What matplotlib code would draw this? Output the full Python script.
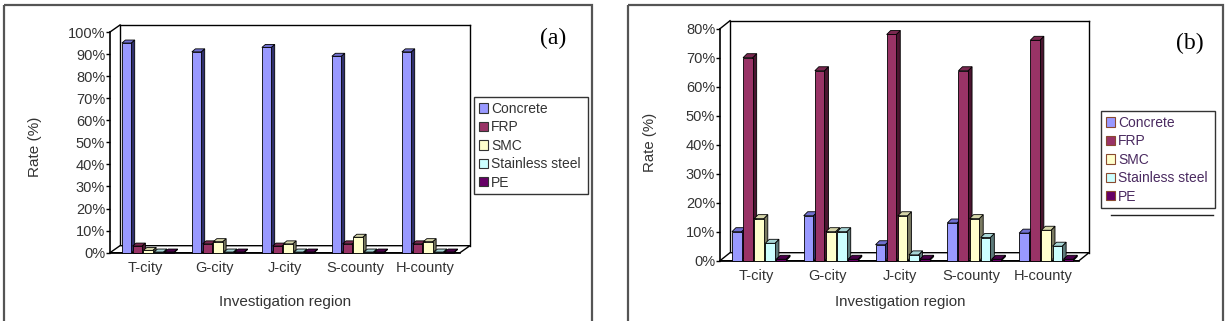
import numpy as np
import matplotlib
matplotlib.use("Agg")
import matplotlib.pyplot as plt
from matplotlib.patches import Polygon, Rectangle, Patch
from matplotlib.ticker import PercentFormatter

# du lieu doc tu hinh
regions = ["T-city", "G-city", "J-city", "S-county", "H-county"]
materials = ["Concrete", "FRP", "SMC", "Stainless steel", "PE"]

# (a)
concrete_a = [95, 91, 93, 89, 91]
frp_a = [3, 4, 3, 4, 4]
smc_a = [1, 5, 4, 7, 5]
steel_a = [0.3, 0.3, 0.3, 0.3, 0.3]
pe_a = [0.3, 0.3, 0.3, 0.3, 0.3]

# (b)
concrete_b = [10, 15.5, 5.5, 13, 9.5]
frp_b = [70, 65.5, 78, 65.5, 76]
smc_b = [14.5, 10, 15.5, 14.5, 10.5]
steel_b = [6, 10, 2, 8, 5]
pe_b = [0.5, 0.5, 0.5, 0.5, 0.5]

front_col = ["#9999FF", "#993366", "#FFFFCC", "#CCFFFF", "#660066"]
top_col = ["#7070d0", "#7a2850", "#d6d6aa", "#a8d6d6", "#4a004a"]
side_col = ["#30306e", "#4a1530", "#7a7a62", "#5c7a7a", "#2a002a"]

W, H = 1227, 321
fig = plt.figure(figsize=(W / 100, H / 100), dpi=100)
fig.patch.set_facecolor("white")

bg = fig.add_axes([0, 0, 1, 1])
bg.set_xlim(0, W)
bg.set_ylim(H, 0)
bg.axis("off")

txt = "#333333"
font = "Liberation Sans"

# khung
bg.add_patch(Rectangle((4, 5), 588, 340, fill=False, ec="#555555", lw=1.6))
bg.add_patch(Rectangle((628, 5), 595, 340, fill=False, ec="#555555", lw=1.6))


def ve_panel(box, data, ymax, wall, bar_d, start, step, width):
    x0, x1, ytop, ybot = box
    ax = fig.add_axes([x0 / W, 1 - ybot / H, (x1 - x0) / W, (ybot - ytop) / H])
    n = len(regions)
    ax.set_xlim(0, n)
    ax.set_ylim(0, ymax)
    ax.patch.set_alpha(0)
    sx = (x1 - x0) / n
    sy = (ybot - ytop) / ymax
    wdx, wdy = wall[0] / sx, wall[1] / sy
    bdx, bdy = bar_d[0] / sx, bar_d[1] / sy

    # tuong sau + nen
    kw = dict(color="black", lw=1.0, clip_on=False, zorder=2)
    ax.plot([wdx, n + wdx], [ymax + wdy, ymax + wdy], **kw)
    ax.plot([n + wdx, n + wdx], [ymax + wdy, wdy], **kw)
    ax.plot([wdx, wdx], [ymax + wdy, wdy], **kw)
    ax.plot([0, wdx], [ymax, ymax + wdy], **kw)
    ax.add_patch(Polygon([(0, 0), (n, 0), (n + wdx, wdy), (wdx, wdy)],
                         closed=True, fc="white", ec="black", lw=1.0,
                         clip_on=False, zorder=2))

    for i in range(n):
        for k, vals in enumerate(data):
            v = vals[i]
            left = i + start + k * step
            z = 3 + k * 0.1
            ax.add_patch(Polygon([(left + width, 0), (left + width + bdx, bdy),
                                  (left + width + bdx, v + bdy), (left + width, v)],
                                 closed=True, fc=side_col[k], ec="black", lw=0.6,
                                 clip_on=False, zorder=z))
            ax.add_patch(Polygon([(left, v), (left + width, v),
                                  (left + width + bdx, v + bdy), (left + bdx, v + bdy)],
                                 closed=True, fc=top_col[k], ec="black", lw=0.6,
                                 clip_on=False, zorder=z))
            ax.bar(left, v, width=width, align="edge", color=front_col[k],
                   edgecolor="black", lw=0.6, zorder=z + 0.05, clip_on=False)

    for s in ["top", "right", "bottom"]:
        ax.spines[s].set_visible(False)
    ax.spines["left"].set_linewidth(1.2)
    ax.spines["left"].set_zorder(2.5)
    ax.set_yticks(np.arange(0, ymax + 1, 10))
    ax.yaxis.set_major_formatter(PercentFormatter(decimals=0))
    ax.tick_params(axis="y", length=3, width=1, pad=0.5, labelsize=10.5,
                   labelcolor=txt)
    ax.set_xticks(np.arange(n) + 0.5)
    ax.set_xticklabels(regions)
    ax.tick_params(axis="x", length=0, pad=6, labelsize=10.5, labelcolor=txt)
    for lb in ax.get_xticklabels() + ax.get_yticklabels():
        lb.set_fontfamily(font)
    # duong nen phia truoc
    ax.plot([0, n], [0, 0], color="black", lw=1.2, clip_on=False, zorder=2.5)
    return ax


data_a = [concrete_a, frp_a, smc_a, steel_a, pe_a]
data_b = [concrete_b, frp_b, smc_b, steel_b, pe_b]

ve_panel((110, 460, 32, 252.7), data_a, 100, (10, 7), (3.5, 3),
         0.17, 0.153, 0.133)
ve_panel((720, 1079, 28.7, 260.7), data_b, 80, (10, 8), (4, 4),
         0.166, 0.155, 0.134)

# nhan truc
bg.text(35, 147, "Rate (%)", rotation=90, ha="center", va="center",
        fontsize=11, color=txt, family=font)
bg.text(650, 142, "Rate (%)", rotation=90, ha="center", va="center",
        fontsize=10.8, color=txt, family=font)
bg.text(285, 302, "Investigation region", ha="center", va="center",
        fontsize=11, color=txt, family=font)
bg.text(900, 302, "Investigation region", ha="center", va="center",
        fontsize=10.8, color=txt, family=font)
bg.text(553, 38, "(a)", ha="center", va="center", fontsize=17,
        family="Liberation Serif", color="black")
bg.text(1190, 43, "(b)", ha="center", va="center", fontsize=17,
        family="Liberation Serif", color="black")

# chu thich
h_a = [Patch(fc=front_col[k], ec="#333333", lw=0.8) for k in range(5)]
h_b = [Patch(fc=front_col[k], ec="#8a4a30", lw=0.8) for k in range(5)]

leg_a = fig.legend(h_a, materials, loc="upper left",
                   bbox_to_anchor=(474 / W, 1 - 194 / H, 114 / W, 97 / H),
                   mode="expand", frameon=True, fancybox=False, framealpha=1,
                   handlelength=0.65, handleheight=0.65, handletextpad=0.25,
                   labelspacing=0.32, borderpad=0.35, borderaxespad=0,
                   prop={"family": font, "size": 10})
leg_a.get_frame().set_edgecolor("#333333")
leg_a.get_frame().set_linewidth(1.0)
for t in leg_a.get_texts():
    t.set_color(txt)

leg_b = fig.legend(h_b, materials, loc="upper left",
                   bbox_to_anchor=(1101 / W, 1 - 207 / H, 114 / W, 96 / H),
                   mode="expand", frameon=True, fancybox=False, framealpha=1,
                   handlelength=0.65, handleheight=0.65, handletextpad=0.25,
                   labelspacing=0.32, borderpad=0.35, borderaxespad=0,
                   prop={"family": font, "size": 10})
leg_b.get_frame().set_edgecolor("#333333")
leg_b.get_frame().set_linewidth(1.0)
for t in leg_b.get_texts():
    t.set_color("#4a2a60")

bg.plot([1111, 1213], [215, 215], color="#222222", lw=1.0)

fig.savefig("out.png", dpi=100)
